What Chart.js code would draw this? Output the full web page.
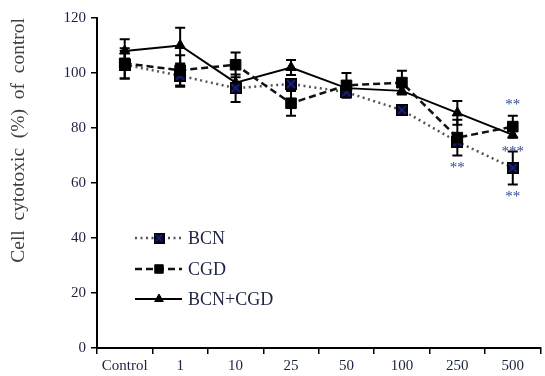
<!DOCTYPE html>
<html>
<head>
<meta charset="utf-8">
<script src="https://cdn.jsdelivr.net/npm/chart.js@4.4.1/dist/chart.umd.min.js"></script>
<style>
  html, body { margin: 0; padding: 0; background: #fff; overflow: hidden; }
</style>
</head>
<body>
<canvas id="c" width="549" height="376"></canvas>
<script>
// dose groups (x axis)
const doses = ['Control', '1', '10', '25', '50', '100', '250', '500'];
const yTicks = [0, 20, 40, 60, 80, 100, 120];

// mean values, % of control
const bcn = [103, 99, 94.5, 96, 93, 86.5, 75, 65.5];
const cgd = [103.5, 101, 103, 89, 95.5, 96.5, 76.5, 80.5];
const combo = [108, 110, 96.5, 102, 94.5, 93.5, 85.5, 77.5];

// error bars (+/-), 0 = not visible
const bcnErr = [5, 4, 5, 0, 0, 0, 0, 6];
const cgdErr = [5.5, 5.5, 4.5, 4.5, 4.5, 4.3, 6.5, 4];
const comboErr = [4.3, 6.5, 0, 2.7, 0, 0, 4.3, 0];

// significance marks: dataset index, point index, text, side
const stars = [
  [1, 7, '**', 'up'],
  [2, 7, '***', 'down'],
  [1, 6, '**', 'down'],
  [0, 7, '**', 'down']
];

const serif = "'Liberation Serif', 'Times New Roman', serif";
const labelColor = '#1c2340';

// navy square with a cross for BCN
function crossBox(size) {
  const cv = document.createElement('canvas');
  cv.width = size; cv.height = size;
  const g = cv.getContext('2d');
  g.fillStyle = '#080830';
  g.fillRect(0, 0, size, size);
  g.strokeStyle = '#000';
  g.lineWidth = 1.5;
  g.strokeRect(0.75, 0.75, size - 1.5, size - 1.5);
  g.strokeStyle = '#1f2a85';
  g.lineWidth = 1.2;
  g.beginPath();
  g.moveTo(2, 2); g.lineTo(size - 2, size - 2);
  g.moveTo(size - 2, 2); g.lineTo(2, size - 2);
  g.stroke();
  return cv;
}
const bcnMark = crossBox(12);
const bcnMarkSmall = crossBox(11);

const errorBars = {
  id: 'errorBars',
  beforeDatasetsDraw(chart) {
    const ctx = chart.ctx, y = chart.scales.y;
    ctx.save();
    ctx.strokeStyle = '#000';
    ctx.lineWidth = 2;
    chart.data.datasets.forEach((ds, di) => {
      const meta = chart.getDatasetMeta(di);
      ds.err.forEach((e, i) => {
        if (!e) return;
        const x = meta.data[i].x;
        const t = y.getPixelForValue(ds.data[i] + e);
        const b = y.getPixelForValue(ds.data[i] - e);
        ctx.beginPath();
        ctx.moveTo(x, t); ctx.lineTo(x, b);
        ctx.moveTo(x - 5, t); ctx.lineTo(x + 5, t);
        ctx.moveTo(x - 5, b); ctx.lineTo(x + 5, b);
        ctx.stroke();
      });
    });
    ctx.restore();
  }
};

const starMarks = {
  id: 'starMarks',
  afterDatasetsDraw(chart) {
    const ctx = chart.ctx, y = chart.scales.y;
    ctx.save();
    ctx.font = '15px ' + serif;
    ctx.fillStyle = '#31498f';
    ctx.textAlign = 'center';
    ctx.textBaseline = 'middle';
    stars.forEach(([di, i, txt, side]) => {
      const ds = chart.data.datasets[di];
      const p = chart.getDatasetMeta(di).data[i];
      const e = ds.err[i] || 0;
      const extra = e ? 0 : 4;
      if (side === 'up') {
        ctx.fillText(txt, p.x, y.getPixelForValue(ds.data[i] + e) - 11 - extra);
      } else {
        ctx.fillText(txt, p.x, y.getPixelForValue(ds.data[i] - e) + 13 + extra);
      }
    });
    ctx.restore();
  }
};

const boxLegend = {
  id: 'boxLegend',
  afterDraw(chart) {
    const ctx = chart.ctx;
    const x0 = 135, x1 = 182, mx = 159, tx = 188;
    const rows = [238, 269, 299];
    ctx.save();
    chart.data.datasets.forEach((ds, di) => {
      const ry = rows[di];
      ctx.strokeStyle = ds.borderColor;
      ctx.lineWidth = ds.borderWidth;
      ctx.setLineDash(ds.borderDash || []);
      ctx.beginPath();
      ctx.moveTo(x0, ry); ctx.lineTo(x1, ry);
      ctx.stroke();
      ctx.setLineDash([]);
      ctx.fillStyle = '#000';
      ctx.strokeStyle = '#000';
      ctx.lineWidth = 1;
      if (di === 0) {
        ctx.drawImage(bcnMarkSmall, mx - 5.5, ry - 5.5);
      } else {
        Chart.helpers.drawPoint(ctx, {
          pointStyle: ds.pointStyle, radius: ds.legendRadius, rotation: 0, borderWidth: 1
        }, mx, ry);
      }
      ctx.fillStyle = labelColor;
      ctx.font = '18px ' + serif;
      ctx.textAlign = 'left';
      ctx.textBaseline = 'middle';
      ctx.fillText(ds.label, tx, ry + 1);
    });
    ctx.restore();
  }
};

new Chart(document.getElementById('c'), {
  type: 'line',
  data: {
    labels: doses,
    datasets: [
      {
        label: 'BCN', data: bcn, err: bcnErr, order: 1,
        borderColor: '#555', borderWidth: 2.5, borderDash: [2, 3.5],
        pointStyle: bcnMark, pointRadius: 6, legendRadius: 5
      },
      {
        label: 'CGD', data: cgd, err: cgdErr, order: 0,
        borderColor: '#111', borderWidth: 2.5, borderDash: [7, 4],
        pointStyle: 'rect', pointRadius: 7.5, legendRadius: 6,
        pointBackgroundColor: '#000', pointBorderColor: '#000', pointBorderWidth: 1
      },
      {
        label: 'BCN+CGD', data: combo, err: comboErr, order: 2,
        borderColor: '#000', borderWidth: 2,
        pointStyle: 'triangle', pointRadius: 6, legendRadius: 5,
        pointBackgroundColor: '#000', pointBorderColor: '#000', pointBorderWidth: 1
      }
    ]
  },
  options: {
    responsive: false,
    animation: false,
    devicePixelRatio: 1,
    layout: { padding: { top: 18, right: 0, left: 0, bottom: 0 } },
    elements: { line: { tension: 0, fill: false } },
    plugins: { legend: { display: false }, tooltip: { enabled: false } },
    scales: {
      x: {
        type: 'category',
        offset: true,
        grid: { offset: true, drawOnChartArea: false, tickLength: 6, color: '#000', lineWidth: 1.5 },
        border: { color: '#000', width: 2 },
        ticks: { font: { family: serif, size: 15 }, color: labelColor, padding: 3, maxRotation: 0, autoSkip: false },
        afterFit: s => { s.height = 28; }
      },
      y: {
        min: 0, max: 120,
        afterBuildTicks: s => { s.ticks = yTicks.map(v => ({ value: v })); },
        grid: { drawOnChartArea: false, tickLength: 6, color: '#000', lineWidth: 1.5 },
        border: { color: '#000', width: 2 },
        ticks: { font: { family: serif, size: 15 }, color: labelColor, padding: 5 },
        title: {
          display: true, text: 'Cell  cytotoxic  (%)  of  control', align: 'end',
          font: { family: serif, size: 19.5 }, color: '#404040', padding: { top: 7, bottom: 0 }
        },
        afterFit: s => { s.width = 97; }
      }
    }
  },
  plugins: [errorBars, starMarks, boxLegend]
});
</script>
</body>
</html>
